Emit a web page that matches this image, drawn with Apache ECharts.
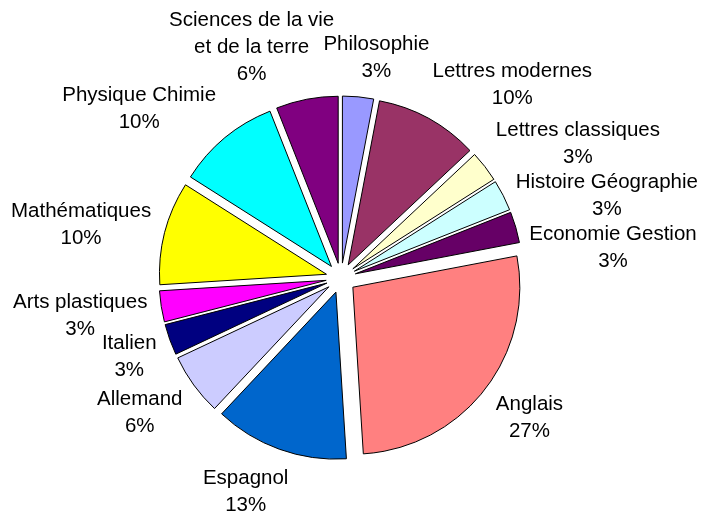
<!DOCTYPE html>
<html><head><meta charset="utf-8">
<script src="https://cdn.jsdelivr.net/npm/echarts@6/dist/echarts.min.js"></script>
<style>html,body{margin:0;padding:0;background:#fff}#chart{width:712px;height:513px}</style>
</head><body><div id="chart"></div>
<script>
const categories = ['Philosophie','Lettres modernes','Lettres classiques','Histoire Géographie','Economie Gestion','Anglais','Espagnol','Allemand','Italien','Arts plastiques','Mathématiques','Physique Chimie','Sciences de la vie\net de la terre'];
const percentages = [3,10,3,3,3,27,13,6,3,3,10,10,6];
const sliceColors = ['#9999FF','#993366','#FFFFCC','#CCFFFF','#660066','#FF8080','#0066CC','#CCCCFF','#000080','#FF00FF','#FFFF00','#00FFFF','#800080'];

const CX = 341, CY = 278, R = 167, EXPLODE = 15, GAPX = 14, GAPY = 18, LINE_H = 27;
const total = percentages.reduce((a, b) => a + b, 0);
const midAngles = [];
let acc = 0;
percentages.forEach(v => { midAngles.push((acc + v / 2) / total * 2 * Math.PI); acc += v; });

let prevStack = null;
const chart = echarts.init(document.getElementById('chart'), null, {renderer: 'canvas'});
chart.setOption({
  animation: false,
  backgroundColor: '#fff',
  series: [{
    type: 'pie',
    center: [CX, CY],
    radius: R,
    startAngle: 90,
    clockwise: true,
    selectedMode: 'multiple',
    selectedOffset: EXPLODE,
    avoidLabelOverlap: false,
    emphasis: {disabled: true, scale: false},
    itemStyle: {borderColor: '#000', borderWidth: 1},
    select: {itemStyle: {borderColor: '#000', borderWidth: 1}},
    label: {show: false},
    labelLine: {show: false},
    data: categories.map((n, i) => ({name: n, value: percentages[i], selected: true, itemStyle: {color: sliceColors[i]}}))
  }, {
    type: 'pie',
    center: [CX, CY],
    radius: R,
    startAngle: 90,
    clockwise: true,
    silent: true,
    avoidLabelOverlap: false,
    emphasis: {disabled: true, scale: false},
    itemStyle: {color: 'rgba(0,0,0,0)', borderWidth: 0},
    label: {
      show: true,
      position: 'outside',
      formatter: p => p.name.split('\n').concat([Math.round(p.percent) + '%']).map(s => '{t|' + s + '}').join('\n'),
      rich: {t: {fontFamily: '"Liberation Sans", Arial, sans-serif', fontSize: 20.5, lineHeight: LINE_H, color: '#000', align: 'center'}}
    },
    labelLine: {show: false},
    labelLayout: function (params) {
      const i = params.dataIndex;
      if (i === 0) prevStack = null;
      const a = midAngles[i];
      const dx = Math.sin(a), dy = -Math.cos(a);
      const ax = CX + (EXPLODE + R + GAPX) * dx;
      const ay = CY + (EXPLODE + R + GAPY) * dy;
      const w = params.labelRect.width, h = params.labelRect.height;
      const k = Math.abs(dx) < 0.25 ? 1.7 : 1;
      const frac = Math.min(1, Math.max(0, 0.5 - k * dx));
      let cy = ay + dy * h / 2;
      const lines = categories[i].split('\n').length + 1;
      // keep the stacked labels on the upper right from overlapping
      if (dx > 0.6 && dy < 0) {
        if (prevStack) cy = Math.max(cy, prevStack.cy + (prevStack.lines + lines) / 2 * (LINE_H - 1));
        prevStack = {cy: cy, lines: lines};
      }
      return {
        x: ax - frac * w,
        y: cy - h / 2,
        align: 'left',
        verticalAlign: 'top'
      };
    },
    data: categories.map((n, i) => ({name: n, value: percentages[i]}))
  }]
});
</script>
</body></html>
